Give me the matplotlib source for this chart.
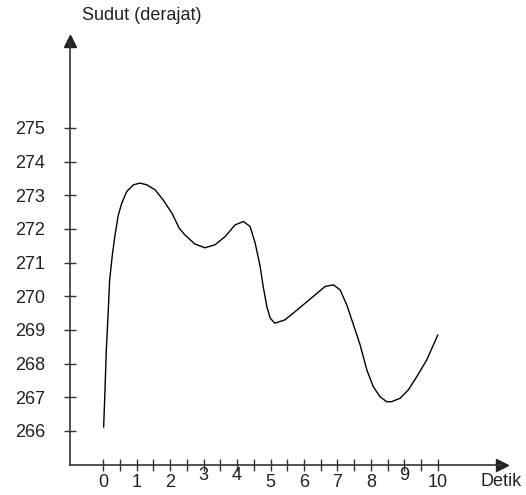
import matplotlib.pyplot as plt
from matplotlib.transforms import ScaledTranslation

plt.rcParams['font.family'] = ['Liberation Sans', 'DejaVu Sans']

# titik kurva
detik = [0.01, 0.04, 0.09, 0.14, 0.19, 0.27, 0.35, 0.45, 0.55, 0.70, 0.90, 1.10,
         1.30, 1.55, 1.79, 2.05, 2.27, 2.44, 2.74, 3.04, 3.34, 3.64, 3.94, 4.19,
         4.39, 4.54, 4.69, 4.78, 4.89, 4.99, 5.13, 5.43, 5.73, 6.03, 6.33, 6.63,
         6.88, 7.08, 7.28, 7.48, 7.68, 7.88, 8.07, 8.27, 8.47, 8.62, 8.87, 9.12,
         9.37, 9.67, 10.0]
sudut = [266.12, 266.92, 268.41, 269.40, 270.49, 271.23, 271.82, 272.42, 272.76,
         273.11, 273.31, 273.36, 273.31, 273.16, 272.86, 272.47, 272.02, 271.82,
         271.55, 271.44, 271.53, 271.77, 272.12, 272.22, 272.07, 271.58, 270.88,
         270.29, 269.69, 269.35, 269.20, 269.30, 269.54, 269.79, 270.04, 270.29,
         270.34, 270.19, 269.74, 269.15, 268.55, 267.81, 267.32, 267.02, 266.87,
         266.87, 266.97, 267.22, 267.61, 268.11, 268.85]

x_ticks = list(range(0, 11))
x_minor = [i + 0.5 for i in range(0, 10)]
y_ticks = list(range(266, 276))
# beberapa label sumbu x sedikit naik di gambar asli
x_label_naik = [3, 4, 9]

W, H = 526, 495
fig = plt.figure(figsize=(W / 100, H / 100), dpi=100)
ax = fig.add_axes([70 / W, 1 - 465 / H, (502 - 70) / W, (465 - 41) / H])

ax.plot(detik, sudut, color='black', lw=1.0, solid_joinstyle='round')

ax.set_xlim(-0.996, 11.92)
ax.set_ylim(264.99, 277.58)

for s in ['top', 'right']:
    ax.spines[s].set_visible(False)
for s in ['left', 'bottom']:
    ax.spines[s].set_color('#333333')
    ax.spines[s].set_linewidth(1.2)

# panah di ujung sumbu
ax.plot(1, 0, '>', color='#222222', ms=8, transform=ax.transAxes, clip_on=False)
ax.plot(0, 1, '^', color='#222222', ms=8, transform=ax.transAxes, clip_on=False)

ax.set_xticks(x_ticks)
ax.set_xticks(x_minor, minor=True)
ax.set_yticks(y_ticks)
ax.tick_params(axis='both', which='both', direction='inout', color='#333333',
               width=1.0, labelsize=13, labelcolor='#222222')
ax.tick_params(axis='x', which='both', length=8.5, pad=2.5)
ax.tick_params(axis='y', length=8, pad=14)

for lab in ax.get_xticklabels():
    if int(round(lab.get_position()[0])) in x_label_naik:
        lab.set_transform(lab.get_transform() +
                          ScaledTranslation(0, 5 / 72, fig.dpi_scale_trans))

fig.text(480 / W, 1 - 482 / H, 'Detik', fontsize=13, color='#222222',
         ha='left', va='center')
fig.text(82 / W, 1 - 15 / H, 'Sudut (derajat)', fontsize=13, color='#222222',
         ha='left', va='center')

fig.savefig('out.png', dpi=100)
plt.close(fig)
